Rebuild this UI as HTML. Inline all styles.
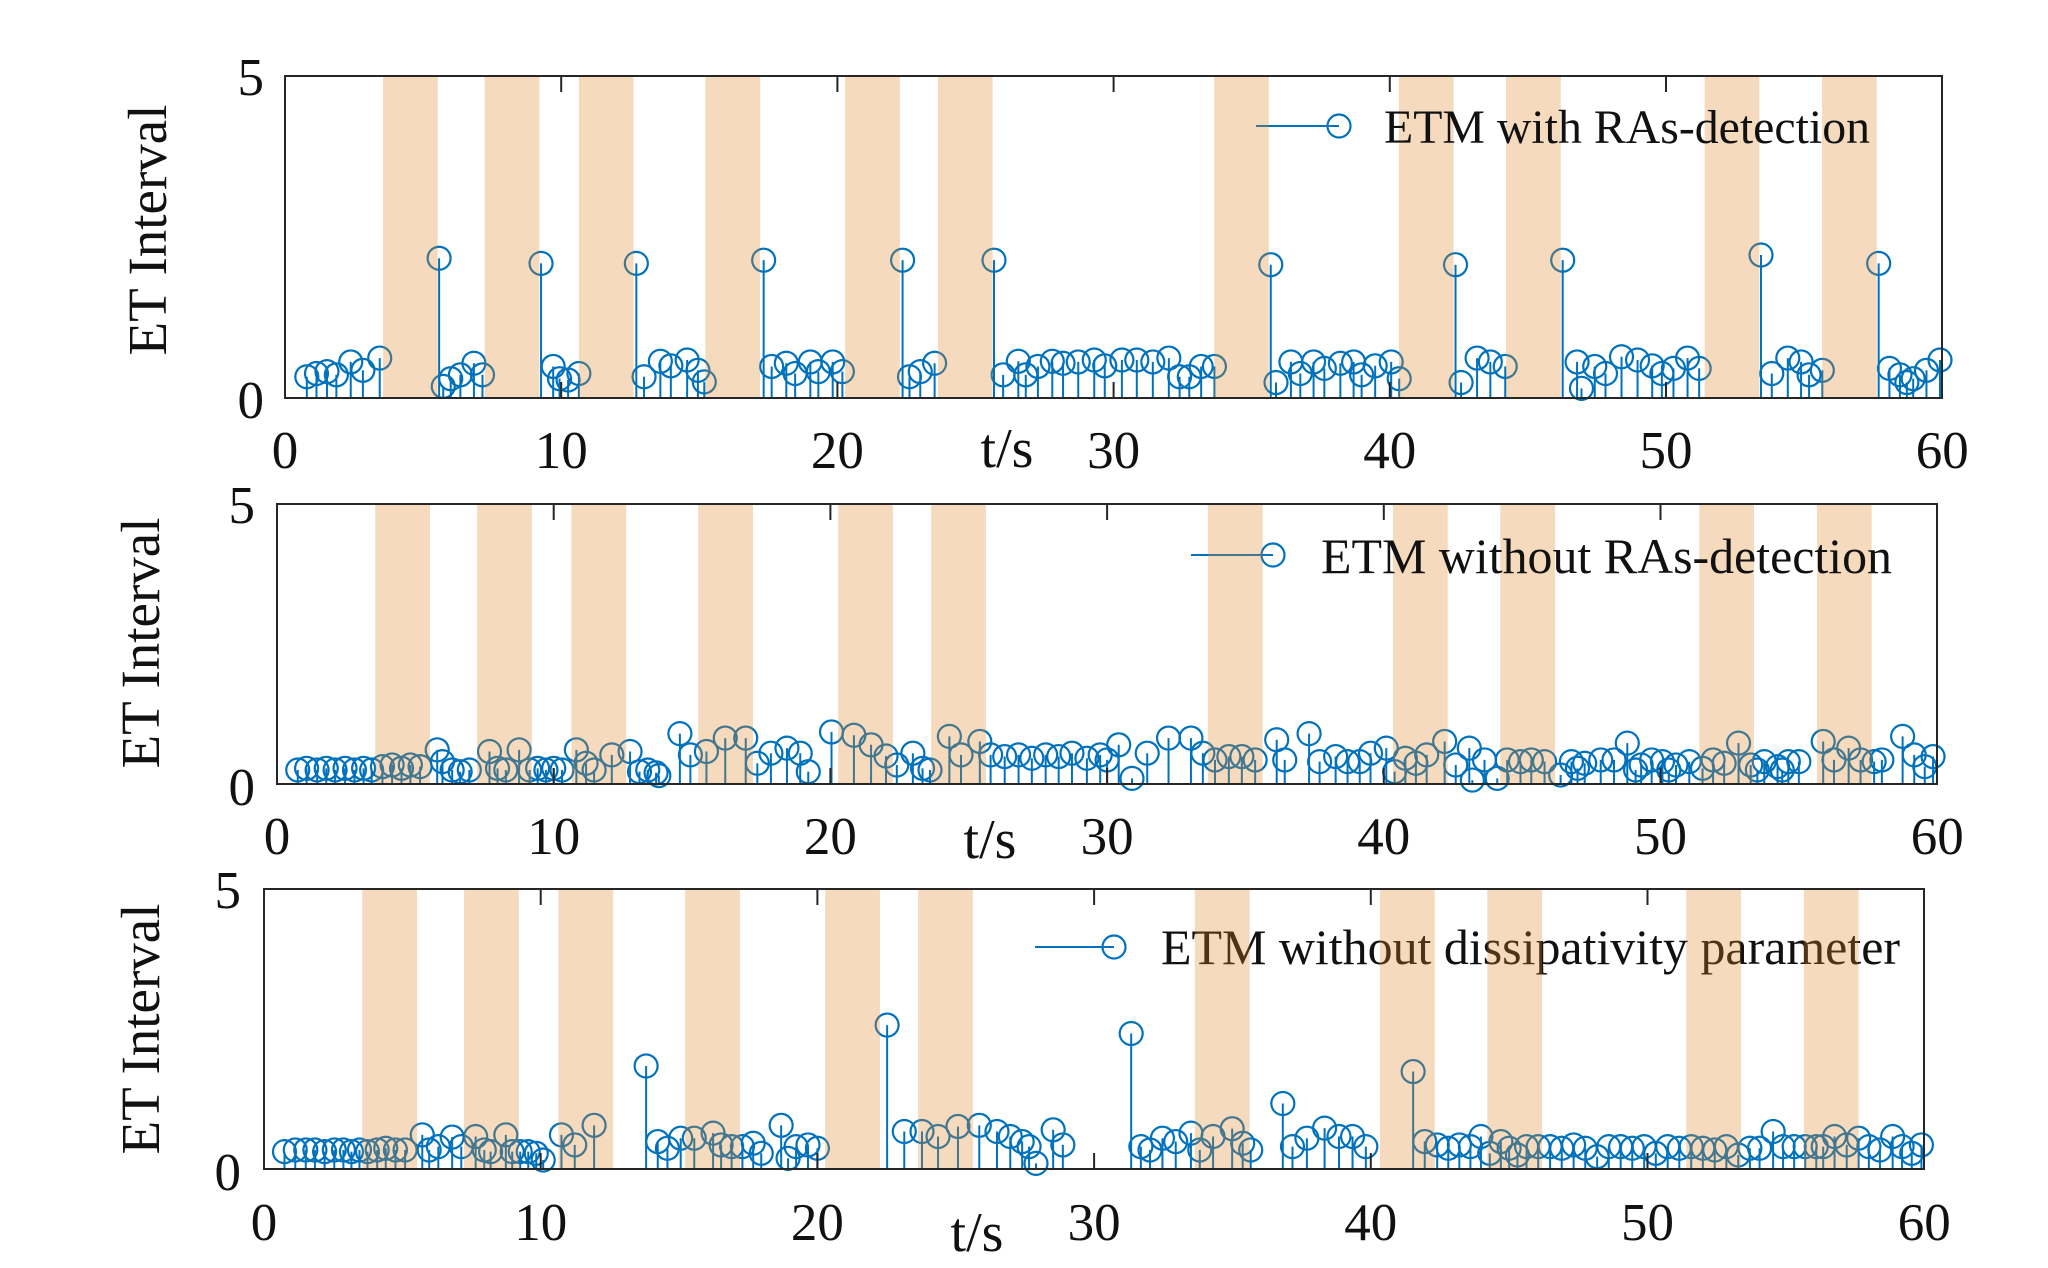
<!DOCTYPE html>
<html><head><meta charset="utf-8"><style>
html,body{margin:0;padding:0;background:#fff;}
svg{display:block;}
text{font-family:"Liberation Serif","Times New Roman",serif;fill:#111;}
</style></head><body>
<svg width="2048" height="1268" viewBox="0 0 2048 1268" xmlns="http://www.w3.org/2000/svg">
<defs>
<path id="a" fill="#0072BD" fill-rule="evenodd" d="M-.4562 0a.4562 .1957 0 1 0 .9124 0a.4562 .1957 0 1 0 -.9124 0ZM-.3765 0a.3765 .1615 0 1 0 .753 0a.3765 .1615 0 1 0 -.753 0Z"/>
<path id="b" fill="#0072BD" fill-rule="evenodd" d="M-.4554 0a.4554 .225 0 1 0 .9108 0a.4554 .225 0 1 0 -.9108 0ZM-.3759 0a.3759 .1857 0 1 0 .7518 0a.3759 .1857 0 1 0 -.7518 0Z"/>
<g id="bands">
<rect x="3.55" y="0" width="1.98" height="5"/><rect x="7.23" y="0" width="1.98" height="5"/><rect x="10.64" y="0" width="1.98" height="5"/><rect x="15.22" y="0" width="1.98" height="5"/><rect x="20.28" y="0" width="1.98" height="5"/><rect x="23.64" y="0" width="1.98" height="5"/><rect x="33.64" y="0" width="1.98" height="5"/><rect x="40.33" y="0" width="1.98" height="5"/><rect x="44.21" y="0" width="1.98" height="5"/><rect x="51.4" y="0" width="1.98" height="5"/><rect x="55.65" y="0" width="1.98" height="5"/>
</g>
</defs>

<!-- ================= PANEL 1 ================= -->
<g transform="translate(285 398) scale(27.62 -64.4)">
<path fill="none" stroke="#0072BD" stroke-width="2" vector-effect="non-scaling-stroke" d="M.79 0V.33M1.14 0V.38M1.52 0V.41M1.86 0V.36M2.38 0V.56M2.82 0V.43M3.43 0V.62M5.58 0V2.17M5.73 0V.18M6 0V.3M6.35 0V.36M6.84 0V.54M7.15 0V.36M9.27 0V2.09M9.71 0V.49M9.94 0V.3M10.25 0V.28M10.64 0V.38M12.72 0V2.09M13 0V.33M13.59 0V.57M13.97 0V.5M14.56 0V.59M14.95 0V.43M15.18 0V.25M17.33 0V2.14M17.62 0V.49M18.15 0V.54M18.47 0V.38M19.02 0V.56M19.31 0V.41M19.83 0V.56M20.18 0V.41M22.36 0V2.14M22.61 0V.33M23 0V.41M23.52 0V.54M25.67 0V2.14M26 0V.36M26.55 0V.57M26.82 0V.36M27.26 0V.49M27.78 0V.57M28.17 0V.54M28.72 0V.56M29.3 0V.59M29.68 0V.5M30.3 0V.59M30.84 0V.59M31.42 0V.56M32 0V.62M32.39 0V.33M32.74 0V.33M33.17 0V.49M33.65 0V.49M35.69 0V2.07M35.88 0V.24M36.42 0V.56M36.76 0V.38M37.24 0V.56M37.63 0V.46M38.21 0V.54M38.69 0V.56M38.98 0V.36M39.47 0V.5M40.05 0V.56M40.34 0V.3M42.38 0V2.07M42.58 0V.24M43.16 0V.62M43.64 0V.56M44.18 0V.49M46.26 0V2.14M46.78 0V.56M46.94 0V.15M47.42 0V.49M47.81 0V.38M48.39 0V.64M48.97 0V.59M49.5 0V.5M49.85 0V.38M50.27 0V.46M50.78 0V.62M51.2 0V.46M53.44 0V2.22M53.83 0V.38M54.41 0V.62M54.89 0V.56M55.18 0V.36M55.66 0V.43M57.7 0V2.09M58.09 0V.46M58.47 0V.36M58.72 0V.24M58.95 0V.3M59.43 0V.43M59.92 0V.59"/>
<use href="#a" x=".79" y=".33"/><use href="#a" x="1.14" y=".38"/><use href="#a" x="1.52" y=".41"/><use href="#a" x="1.86" y=".36"/><use href="#a" x="2.38" y=".56"/><use href="#a" x="2.82" y=".43"/><use href="#a" x="3.43" y=".62"/>
<use href="#a" x="5.58" y="2.17"/><use href="#a" x="5.73" y=".18"/><use href="#a" x="6" y=".3"/><use href="#a" x="6.35" y=".36"/><use href="#a" x="6.84" y=".54"/><use href="#a" x="7.15" y=".36"/>
<use href="#a" x="9.27" y="2.09"/><use href="#a" x="9.71" y=".49"/><use href="#a" x="9.94" y=".3"/><use href="#a" x="10.25" y=".28"/><use href="#a" x="10.64" y=".38"/>
<use href="#a" x="12.72" y="2.09"/><use href="#a" x="13" y=".33"/><use href="#a" x="13.59" y=".57"/><use href="#a" x="13.97" y=".5"/><use href="#a" x="14.56" y=".59"/><use href="#a" x="14.95" y=".43"/><use href="#a" x="15.18" y=".25"/>
<use href="#a" x="17.33" y="2.14"/><use href="#a" x="17.62" y=".49"/><use href="#a" x="18.15" y=".54"/><use href="#a" x="18.47" y=".38"/><use href="#a" x="19.02" y=".56"/><use href="#a" x="19.31" y=".41"/><use href="#a" x="19.83" y=".56"/><use href="#a" x="20.18" y=".41"/>
<use href="#a" x="22.36" y="2.14"/><use href="#a" x="22.61" y=".33"/><use href="#a" x="23" y=".41"/><use href="#a" x="23.52" y=".54"/>
<use href="#a" x="25.67" y="2.14"/><use href="#a" x="26" y=".36"/><use href="#a" x="26.55" y=".57"/><use href="#a" x="26.82" y=".36"/><use href="#a" x="27.26" y=".49"/><use href="#a" x="27.78" y=".57"/><use href="#a" x="28.17" y=".54"/><use href="#a" x="28.72" y=".56"/><use href="#a" x="29.3" y=".59"/><use href="#a" x="29.68" y=".5"/>
<use href="#a" x="30.3" y=".59"/><use href="#a" x="30.84" y=".59"/><use href="#a" x="31.42" y=".56"/><use href="#a" x="32" y=".62"/><use href="#a" x="32.39" y=".33"/><use href="#a" x="32.74" y=".33"/><use href="#a" x="33.17" y=".49"/><use href="#a" x="33.65" y=".49"/>
<use href="#a" x="35.69" y="2.07"/><use href="#a" x="35.88" y=".24"/><use href="#a" x="36.42" y=".56"/><use href="#a" x="36.76" y=".38"/><use href="#a" x="37.24" y=".56"/><use href="#a" x="37.63" y=".46"/><use href="#a" x="38.21" y=".54"/><use href="#a" x="38.69" y=".56"/><use href="#a" x="38.98" y=".36"/><use href="#a" x="39.47" y=".5"/><use href="#a" x="40.05" y=".56"/><use href="#a" x="40.34" y=".3"/>
<use href="#a" x="42.38" y="2.07"/><use href="#a" x="42.58" y=".24"/><use href="#a" x="43.16" y=".62"/><use href="#a" x="43.64" y=".56"/><use href="#a" x="44.18" y=".49"/>
<use href="#a" x="46.26" y="2.14"/><use href="#a" x="46.78" y=".56"/><use href="#a" x="46.94" y=".15"/><use href="#a" x="47.42" y=".49"/><use href="#a" x="47.81" y=".38"/><use href="#a" x="48.39" y=".64"/><use href="#a" x="48.97" y=".59"/><use href="#a" x="49.5" y=".5"/><use href="#a" x="49.85" y=".38"/><use href="#a" x="50.27" y=".46"/><use href="#a" x="50.78" y=".62"/><use href="#a" x="51.2" y=".46"/>
<use href="#a" x="53.44" y="2.22"/><use href="#a" x="53.83" y=".38"/><use href="#a" x="54.41" y=".62"/><use href="#a" x="54.89" y=".56"/><use href="#a" x="55.18" y=".36"/><use href="#a" x="55.66" y=".43"/>
<use href="#a" x="57.7" y="2.09"/><use href="#a" x="58.09" y=".46"/><use href="#a" x="58.47" y=".36"/><use href="#a" x="58.72" y=".24"/><use href="#a" x="58.95" y=".3"/><use href="#a" x="59.43" y=".43"/><use href="#a" x="59.92" y=".59"/>
</g>
<!-- legend 1 marker -->
<line x1="1256" y1="126" x2="1339" y2="126" stroke="#0072BD" stroke-width="2"/>
<circle cx="1339" cy="126" r="11.5" fill="none" stroke="#0072BD" stroke-width="2.2"/>
<!-- bands 1 -->
<g transform="translate(285 398) scale(27.62 -64.4)" fill="rgb(222,132,38)" fill-opacity="0.3"><use href="#bands"/></g>
<text x="1384" y="143" font-size="48" textLength="486" lengthAdjust="spacingAndGlyphs">ETM with RAs-detection</text>
<!-- axes 1 -->
<rect x="285" y="76" width="1657" height="322" fill="none" stroke="#262626" stroke-width="2"/>
<path stroke="#262626" stroke-width="2" d="M561.2 76v16M837.4 76v16M1113.6 76v16M1389.8 76v16M1666 76v16M561.2 398v-16M837.4 398v-16M1113.6 398v-16M1389.8 398v-16M1666 398v-16"/>
<g font-size="53" text-anchor="middle">
<text x="285" y="468">0</text><text x="561.2" y="468">10</text><text x="837.4" y="468">20</text><text x="1113.6" y="468">30</text><text x="1389.8" y="468">40</text><text x="1666" y="468">50</text><text x="1942.2" y="468">60</text>
</g>
<g font-size="53" text-anchor="end"><text x="264" y="95">5</text><text x="264" y="418">0</text></g>
<text x="1007" y="467" font-size="56" text-anchor="middle">t/s</text>
<text transform="translate(166 230) rotate(-90)" font-size="55" text-anchor="middle">ET Interval</text>

<!-- ================= PANEL 2 ================= -->
<g transform="translate(277 784) scale(27.67 -56)">
<path fill="none" stroke="#0072BD" stroke-width="2" vector-effect="non-scaling-stroke" d="M.75 0V.25M1.07 0V.28M1.45 0V.25M1.78 0V.28M2.1 0V.25M2.46 0V.28M2.8 0V.25M3.13 0V.28M3.42 0V.25M3.81 0V.31M4.16 0V.34M4.5 0V.28M4.82 0V.34M5.17 0V.31M5.79 0V.61M5.98 0V.4M6.33 0V.25M6.62 0V.22M6.95 0V.25M7.68 0V.58M7.97 0V.28M8.27 0V.25M8.75 0V.61M9.13 0V.25M9.42 0V.28M9.72 0V.25M10 0V.28M10.3 0V.25M10.82 0V.61M11.17 0V.37M11.46 0V.25M12.1 0V.52M12.76 0V.58M13.1 0V.22M13.4 0V.25M13.7 0V.2M13.8 0V.15M14.56 0V.9M14.94 0V.52M15.52 0V.58M16.2 0V.82M16.94 0V.82M17.36 0V.37M17.85 0V.55M18.43 0V.64M18.91 0V.55M19.2 0V.22M20.04 0V.93M20.85 0V.87M21.47 0V.7M22.01 0V.5M22.4 0V.34M22.98 0V.55M23.33 0V.28M23.6 0V.25M24.3 0V.85M24.72 0V.52M25.4 0V.76M25.79 0V.52M26.3 0V.49M26.8 0V.52M27.28 0V.46M27.78 0V.52M28.25 0V.49M28.73 0V.55M29.27 0V.46M29.75 0V.52M30 0V.43M30.42 0V.7M30.9 0V.1M31.45 0V.55M32.22 0V.82M33.03 0V.82M33.46 0V.55M33.9 0V.43M34.4 0V.49M34.87 0V.49M35.35 0V.43M36.13 0V.79M36.42 0V.43M37.3 0V.9M37.68 0V.4M38.26 0V.49M38.69 0V.4M39.13 0V.4M39.52 0V.55M40.09 0V.64M40.39 0V.22M40.78 0V.46M41.16 0V.37M41.55 0V.52M42.2 0V.76M42.6 0V.34M43.09 0V.64M43.2 0V.07M43.64 0V.43M44.1 0V.1M44.46 0V.43M44.94 0V.4M45.33 0V.43M45.81 0V.4M46.39 0V.16M46.78 0V.4M47 0V.28M47.26 0V.37M47.84 0V.43M48.32 0V.43M48.8 0V.73M49.1 0V.25M49.3 0V.34M49.68 0V.43M50.07 0V.4M50.3 0V.25M50.56 0V.34M51.04 0V.4M51.52 0V.28M51.9 0V.43M52.3 0V.37M52.82 0V.73M53.26 0V.34M53.5 0V.25M53.75 0V.4M54.23 0V.31M54.4 0V.25M54.62 0V.4M55 0V.4M55.88 0V.76M56.27 0V.43M56.8 0V.64M57.23 0V.43M57.72 0V.4M58 0V.43M58.75 0V.85M59.17 0V.52M59.55 0V.31M59.85 0V.49"/>
<use href="#b" x=".75" y=".25"/><use href="#b" x="1.07" y=".28"/><use href="#b" x="1.45" y=".25"/><use href="#b" x="1.78" y=".28"/><use href="#b" x="2.1" y=".25"/><use href="#b" x="2.46" y=".28"/><use href="#b" x="2.8" y=".25"/><use href="#b" x="3.13" y=".28"/><use href="#b" x="3.42" y=".25"/><use href="#b" x="3.81" y=".31"/><use href="#b" x="4.16" y=".34"/><use href="#b" x="4.5" y=".28"/><use href="#b" x="4.82" y=".34"/><use href="#b" x="5.17" y=".31"/>
<use href="#b" x="5.79" y=".61"/><use href="#b" x="5.98" y=".4"/><use href="#b" x="6.33" y=".25"/><use href="#b" x="6.62" y=".22"/><use href="#b" x="6.95" y=".25"/><use href="#b" x="7.68" y=".58"/><use href="#b" x="7.97" y=".28"/><use href="#b" x="8.27" y=".25"/><use href="#b" x="8.75" y=".61"/><use href="#b" x="9.13" y=".25"/><use href="#b" x="9.42" y=".28"/><use href="#b" x="9.72" y=".25"/><use href="#b" x="10" y=".28"/><use href="#b" x="10.3" y=".25"/>
<use href="#b" x="10.82" y=".61"/><use href="#b" x="11.17" y=".37"/><use href="#b" x="11.46" y=".25"/><use href="#b" x="12.1" y=".52"/><use href="#b" x="12.76" y=".58"/><use href="#b" x="13.1" y=".22"/><use href="#b" x="13.4" y=".25"/><use href="#b" x="13.7" y=".2"/><use href="#b" x="13.8" y=".15"/>
<use href="#b" x="14.56" y=".9"/><use href="#b" x="14.94" y=".52"/><use href="#b" x="15.52" y=".58"/><use href="#b" x="16.2" y=".82"/><use href="#b" x="16.94" y=".82"/><use href="#b" x="17.36" y=".37"/><use href="#b" x="17.85" y=".55"/><use href="#b" x="18.43" y=".64"/><use href="#b" x="18.91" y=".55"/><use href="#b" x="19.2" y=".22"/>
<use href="#b" x="20.04" y=".93"/><use href="#b" x="20.85" y=".87"/><use href="#b" x="21.47" y=".7"/><use href="#b" x="22.01" y=".5"/><use href="#b" x="22.4" y=".34"/><use href="#b" x="22.98" y=".55"/><use href="#b" x="23.33" y=".28"/><use href="#b" x="23.6" y=".25"/>
<use href="#b" x="24.3" y=".85"/><use href="#b" x="24.72" y=".52"/><use href="#b" x="25.4" y=".76"/><use href="#b" x="25.79" y=".52"/><use href="#b" x="26.3" y=".49"/><use href="#b" x="26.8" y=".52"/><use href="#b" x="27.28" y=".46"/><use href="#b" x="27.78" y=".52"/><use href="#b" x="28.25" y=".49"/><use href="#b" x="28.73" y=".55"/><use href="#b" x="29.27" y=".46"/><use href="#b" x="29.75" y=".52"/>
<use href="#b" x="30" y=".43"/><use href="#b" x="30.42" y=".7"/><use href="#b" x="30.9" y=".1"/><use href="#b" x="31.45" y=".55"/><use href="#b" x="32.22" y=".82"/><use href="#b" x="33.03" y=".82"/><use href="#b" x="33.46" y=".55"/><use href="#b" x="33.9" y=".43"/><use href="#b" x="34.4" y=".49"/><use href="#b" x="34.87" y=".49"/><use href="#b" x="35.35" y=".43"/>
<use href="#b" x="36.13" y=".79"/><use href="#b" x="36.42" y=".43"/><use href="#b" x="37.3" y=".9"/><use href="#b" x="37.68" y=".4"/><use href="#b" x="38.26" y=".49"/><use href="#b" x="38.69" y=".4"/><use href="#b" x="39.13" y=".4"/><use href="#b" x="39.52" y=".55"/><use href="#b" x="40.09" y=".64"/><use href="#b" x="40.39" y=".22"/><use href="#b" x="40.78" y=".46"/><use href="#b" x="41.16" y=".37"/><use href="#b" x="41.55" y=".52"/>
<use href="#b" x="42.2" y=".76"/><use href="#b" x="42.6" y=".34"/><use href="#b" x="43.09" y=".64"/><use href="#b" x="43.2" y=".07"/><use href="#b" x="43.64" y=".43"/><use href="#b" x="44.1" y=".1"/><use href="#b" x="44.46" y=".43"/><use href="#b" x="44.94" y=".4"/><use href="#b" x="45.33" y=".43"/><use href="#b" x="45.81" y=".4"/><use href="#b" x="46.39" y=".16"/><use href="#b" x="46.78" y=".4"/><use href="#b" x="47" y=".28"/><use href="#b" x="47.26" y=".37"/><use href="#b" x="47.84" y=".43"/><use href="#b" x="48.32" y=".43"/>
<use href="#b" x="48.8" y=".73"/><use href="#b" x="49.1" y=".25"/><use href="#b" x="49.3" y=".34"/><use href="#b" x="49.68" y=".43"/><use href="#b" x="50.07" y=".4"/><use href="#b" x="50.3" y=".25"/><use href="#b" x="50.56" y=".34"/><use href="#b" x="51.04" y=".4"/><use href="#b" x="51.52" y=".28"/><use href="#b" x="51.9" y=".43"/><use href="#b" x="52.3" y=".37"/><use href="#b" x="52.82" y=".73"/><use href="#b" x="53.26" y=".34"/><use href="#b" x="53.5" y=".25"/><use href="#b" x="53.75" y=".4"/><use href="#b" x="54.23" y=".31"/><use href="#b" x="54.4" y=".25"/><use href="#b" x="54.62" y=".4"/><use href="#b" x="55" y=".4"/>
<use href="#b" x="55.88" y=".76"/><use href="#b" x="56.27" y=".43"/><use href="#b" x="56.8" y=".64"/><use href="#b" x="57.23" y=".43"/><use href="#b" x="57.72" y=".4"/><use href="#b" x="58" y=".43"/><use href="#b" x="58.75" y=".85"/><use href="#b" x="59.17" y=".52"/><use href="#b" x="59.55" y=".31"/><use href="#b" x="59.85" y=".49"/>
</g>
<!-- legend 2 marker -->
<line x1="1191" y1="555" x2="1273" y2="555" stroke="#0072BD" stroke-width="2"/>
<circle cx="1273" cy="555" r="11.5" fill="none" stroke="#0072BD" stroke-width="2.2"/>
<g transform="translate(277 784) scale(27.67 -56)" fill="rgb(222,132,38)" fill-opacity="0.3"><use href="#bands"/></g>
<text x="1321" y="573" font-size="50" textLength="571" lengthAdjust="spacingAndGlyphs">ETM without RAs-detection</text>
<rect x="277" y="504" width="1660" height="280" fill="none" stroke="#262626" stroke-width="2"/>
<path stroke="#262626" stroke-width="2" d="M553.7 504v16M830.4 504v16M1107.1 504v16M1383.8 504v16M1660.5 504v16M553.7 784v-16M830.4 784v-16M1107.1 784v-16M1383.8 784v-16M1660.5 784v-16"/>
<g font-size="53" text-anchor="middle">
<text x="277" y="854">0</text><text x="553.7" y="854">10</text><text x="830.4" y="854">20</text><text x="1107.1" y="854">30</text><text x="1383.8" y="854">40</text><text x="1660.5" y="854">50</text><text x="1937.2" y="854">60</text>
</g>
<g font-size="53" text-anchor="end"><text x="255" y="523">5</text><text x="255" y="805">0</text></g>
<text x="990" y="858" font-size="56" text-anchor="middle">t/s</text>
<text transform="translate(159 643) rotate(-90)" font-size="55" text-anchor="middle">ET Interval</text>

<!-- ================= PANEL 3 ================= -->
<g transform="translate(264 1169) scale(27.67 -56)">
<path fill="none" stroke="#0072BD" stroke-width="2" vector-effect="non-scaling-stroke" d="M.74 0V.31M1.13 0V.34M1.51 0V.34M1.84 0V.34M2.19 0V.31M2.54 0V.34M2.87 0V.34M3.16 0V.31M3.45 0V.34M3.74 0V.31M4.09 0V.34M4.4 0V.37M4.75 0V.34M5.1 0V.34M5.72 0V.61M5.97 0V.34M6.3 0V.4M6.8 0V.57M7.13 0V.4M7.65 0V.58M7.96 0V.34M8.19 0V.31M8.74 0V.61M8.97 0V.31M9.26 0V.31M9.55 0V.31M9.84 0V.28M10.09 0V.16M10.75 0V.61M11.23 0V.43M11.93 0V.78M13.81 0V1.84M14.23 0V.49M14.58 0V.37M15.06 0V.55M15.55 0V.55M16.23 0V.64M16.52 0V.43M16.9 0V.4M17.29 0V.4M17.68 0V.46M17.97 0V.28M18.69 0V.78M18.94 0V.19M19.23 0V.4M19.66 0V.43M20 0V.37M22.52 0V2.57M23.14 0V.67M23.78 0V.67M24.36 0V.58M25.08 0V.76M25.85 0V.78M26.49 0V.67M26.97 0V.58M27.4 0V.49M27.65 0V.4M27.9 0V.1M28.52 0V.7M28.87 0V.43M31.34 0V2.42M31.69 0V.4M32.02 0V.34M32.47 0V.55M32.95 0V.49M33.5 0V.64M33.82 0V.34M34.3 0V.58M34.99 0V.72M35.37 0V.46M35.66 0V.34M36.82 0V1.17M37.17 0V.4M37.69 0V.55M38.33 0V.73M38.85 0V.58M39.34 0V.58M39.82 0V.4M41.53 0V1.74M41.95 0V.49M42.4 0V.43M42.8 0V.37M43.2 0V.43M43.6 0V.4M43.98 0V.58M44.3 0V.28M44.7 0V.49M45 0V.37M45.3 0V.25M45.63 0V.4M46.05 0V.4M46.48 0V.4M46.9 0V.37M47.33 0V.43M47.75 0V.37M48.18 0V.22M48.6 0V.4M49.03 0V.4M49.45 0V.37M49.88 0V.4M50.3 0V.28M50.73 0V.4M51.15 0V.37M51.58 0V.4M52 0V.37M52.43 0V.34M52.85 0V.4M53.28 0V.25M53.7 0V.37M54.05 0V.37M54.54 0V.67M54.9 0V.4M55.3 0V.4M55.7 0V.4M56.1 0V.4M56.35 0V.4M56.76 0V.58M57.2 0V.43M57.63 0V.55M58 0V.4M58.4 0V.34M58.86 0V.58M59.2 0V.4M59.55 0V.28M59.9 0V.43"/>
<use href="#b" x=".74" y=".31"/><use href="#b" x="1.13" y=".34"/><use href="#b" x="1.51" y=".34"/><use href="#b" x="1.84" y=".34"/><use href="#b" x="2.19" y=".31"/><use href="#b" x="2.54" y=".34"/><use href="#b" x="2.87" y=".34"/><use href="#b" x="3.16" y=".31"/><use href="#b" x="3.45" y=".34"/><use href="#b" x="3.74" y=".31"/><use href="#b" x="4.09" y=".34"/><use href="#b" x="4.4" y=".37"/><use href="#b" x="4.75" y=".34"/><use href="#b" x="5.1" y=".34"/>
<use href="#b" x="5.72" y=".61"/><use href="#b" x="5.97" y=".34"/><use href="#b" x="6.3" y=".4"/><use href="#b" x="6.8" y=".57"/><use href="#b" x="7.13" y=".4"/><use href="#b" x="7.65" y=".58"/><use href="#b" x="7.96" y=".34"/><use href="#b" x="8.19" y=".31"/><use href="#b" x="8.74" y=".61"/><use href="#b" x="8.97" y=".31"/><use href="#b" x="9.26" y=".31"/><use href="#b" x="9.55" y=".31"/><use href="#b" x="9.84" y=".28"/><use href="#b" x="10.09" y=".16"/><use href="#b" x="10.75" y=".61"/><use href="#b" x="11.23" y=".43"/><use href="#b" x="11.93" y=".78"/>
<use href="#b" x="13.81" y="1.84"/><use href="#b" x="14.23" y=".49"/><use href="#b" x="14.58" y=".37"/><use href="#b" x="15.06" y=".55"/><use href="#b" x="15.55" y=".55"/><use href="#b" x="16.23" y=".64"/><use href="#b" x="16.52" y=".43"/><use href="#b" x="16.9" y=".4"/><use href="#b" x="17.29" y=".4"/><use href="#b" x="17.68" y=".46"/><use href="#b" x="17.97" y=".28"/><use href="#b" x="18.69" y=".78"/><use href="#b" x="18.94" y=".19"/><use href="#b" x="19.23" y=".4"/><use href="#b" x="19.66" y=".43"/><use href="#b" x="20" y=".37"/>
<use href="#b" x="22.52" y="2.57"/><use href="#b" x="23.14" y=".67"/><use href="#b" x="23.78" y=".67"/><use href="#b" x="24.36" y=".58"/><use href="#b" x="25.08" y=".76"/><use href="#b" x="25.85" y=".78"/><use href="#b" x="26.49" y=".67"/><use href="#b" x="26.97" y=".58"/><use href="#b" x="27.4" y=".49"/><use href="#b" x="27.65" y=".4"/><use href="#b" x="27.9" y=".1"/><use href="#b" x="28.52" y=".7"/><use href="#b" x="28.87" y=".43"/>
<use href="#b" x="31.34" y="2.42"/><use href="#b" x="31.69" y=".4"/><use href="#b" x="32.02" y=".34"/><use href="#b" x="32.47" y=".55"/><use href="#b" x="32.95" y=".49"/><use href="#b" x="33.5" y=".64"/><use href="#b" x="33.82" y=".34"/><use href="#b" x="34.3" y=".58"/><use href="#b" x="34.99" y=".72"/><use href="#b" x="35.37" y=".46"/><use href="#b" x="35.66" y=".34"/>
<use href="#b" x="36.82" y="1.17"/><use href="#b" x="37.17" y=".4"/><use href="#b" x="37.69" y=".55"/><use href="#b" x="38.33" y=".73"/><use href="#b" x="38.85" y=".58"/><use href="#b" x="39.34" y=".58"/><use href="#b" x="39.82" y=".4"/>
<use href="#b" x="41.53" y="1.74"/><use href="#b" x="41.95" y=".49"/><use href="#b" x="42.4" y=".43"/><use href="#b" x="42.8" y=".37"/><use href="#b" x="43.2" y=".43"/><use href="#b" x="43.6" y=".4"/><use href="#b" x="43.98" y=".58"/><use href="#b" x="44.3" y=".28"/><use href="#b" x="44.7" y=".49"/><use href="#b" x="45" y=".37"/><use href="#b" x="45.3" y=".25"/>
<use href="#b" x="45.63" y=".4"/><use href="#b" x="46.05" y=".4"/><use href="#b" x="46.48" y=".4"/><use href="#b" x="46.9" y=".37"/><use href="#b" x="47.33" y=".43"/><use href="#b" x="47.75" y=".37"/><use href="#b" x="48.18" y=".22"/><use href="#b" x="48.6" y=".4"/><use href="#b" x="49.03" y=".4"/><use href="#b" x="49.45" y=".37"/><use href="#b" x="49.88" y=".4"/><use href="#b" x="50.3" y=".28"/><use href="#b" x="50.73" y=".4"/><use href="#b" x="51.15" y=".37"/><use href="#b" x="51.58" y=".4"/><use href="#b" x="52" y=".37"/><use href="#b" x="52.43" y=".34"/><use href="#b" x="52.85" y=".4"/><use href="#b" x="53.28" y=".25"/><use href="#b" x="53.7" y=".37"/><use href="#b" x="54.05" y=".37"/>
<use href="#b" x="54.54" y=".67"/><use href="#b" x="54.9" y=".4"/><use href="#b" x="55.3" y=".4"/><use href="#b" x="55.7" y=".4"/><use href="#b" x="56.1" y=".4"/><use href="#b" x="56.35" y=".4"/><use href="#b" x="56.76" y=".58"/><use href="#b" x="57.2" y=".43"/><use href="#b" x="57.63" y=".55"/><use href="#b" x="58" y=".4"/><use href="#b" x="58.4" y=".34"/><use href="#b" x="58.86" y=".58"/><use href="#b" x="59.2" y=".4"/><use href="#b" x="59.55" y=".28"/><use href="#b" x="59.9" y=".43"/>
</g>
<!-- legend 3 -->
<line x1="1035" y1="947" x2="1114" y2="947" stroke="#0072BD" stroke-width="2"/>
<circle cx="1114" cy="947" r="11.5" fill="none" stroke="#0072BD" stroke-width="2.2"/>
<text x="1161" y="964" font-size="50" textLength="739" lengthAdjust="spacingAndGlyphs">ETM without dissipativity parameter</text>
<g transform="translate(264 1169) scale(27.67 -56)" fill="rgb(222,132,38)" fill-opacity="0.3"><use href="#bands"/></g>
<rect x="264" y="889" width="1660" height="280" fill="none" stroke="#262626" stroke-width="2"/>
<path stroke="#262626" stroke-width="2" d="M540.7 889v16M817.4 889v16M1094.1 889v16M1370.8 889v16M1647.5 889v16M540.7 1169v-16M817.4 1169v-16M1094.1 1169v-16M1370.8 1169v-16M1647.5 1169v-16"/>
<g font-size="53" text-anchor="middle">
<text x="264" y="1240">0</text><text x="540.7" y="1240">10</text><text x="817.4" y="1240">20</text><text x="1094.1" y="1240">30</text><text x="1370.8" y="1240">40</text><text x="1647.5" y="1240">50</text><text x="1924.2" y="1240">60</text>
</g>
<g font-size="53" text-anchor="end"><text x="241" y="908">5</text><text x="241" y="1190">0</text></g>
<text x="977" y="1251" font-size="56" text-anchor="middle">t/s</text>
<text transform="translate(159 1029) rotate(-90)" font-size="55" text-anchor="middle">ET Interval</text>
</svg>
</body></html>
